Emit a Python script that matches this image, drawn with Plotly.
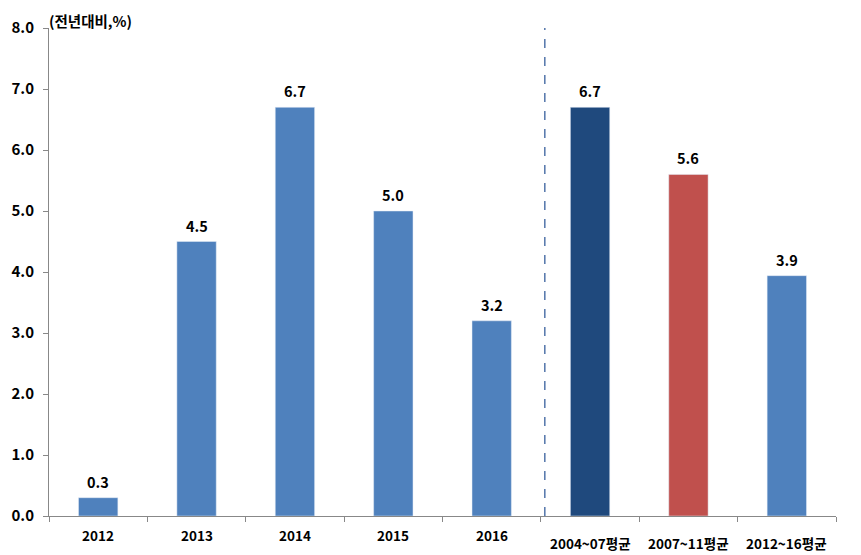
import plotly.graph_objects as go

categories = ["2012", "2013", "2014", "2015", "2016", "2004~07평균", "2007~11평균", "2012~16평균"]
values = [0.3, 4.5, 6.7, 5.0, 3.2, 6.7, 5.6, 3.94]
colors = ["#4F81BD"] * 5 + ["#1F497D", "#C0504D", "#4F81BD"]
label_text = ["0.3", "4.5", "6.7", "5.0", "3.2", "6.7", "5.6", "3.9"]
y_ticks = [0, 1, 2, 3, 4, 5, 6, 7, 8]
y_tick_text = ["0.0", "1.0", "2.0", "3.0", "4.0", "5.0", "6.0", "7.0", "8.0"]
y_title = "(전년대비,%)"

FONT = "Noto Sans CJK KR, sans-serif"
x_idx = list(range(len(categories)))

fig = go.Figure()
fig.add_trace(go.Bar(
    x=x_idx, y=values, marker_color=colors, width=0.4,
))

# value labels above bars
for i, v in enumerate(values):
    fig.add_annotation(
        x=i, xref="x", y=v, yref="y", text=f"<b>{label_text[i]}</b>",
        showarrow=False, yanchor="bottom", yshift=4,
        font=dict(size=14.5, color="#000000", family=FONT),
    )

# x labels as annotations (last three sit a bit lower)
for i, c in enumerate(categories):
    fig.add_annotation(
        x=i, xref="x", y=-0.039 if i < 5 else -0.055, yref="paper",
        text=f"<b>{c}</b>", showarrow=False, yanchor="middle",
        font=dict(size=13.5, color="#000000", family=FONT),
    )

fig.add_annotation(
    x=-0.003, xref="paper", y=1.0, yref="paper", text=f"<b>{y_title}</b>", showarrow=False,
    xanchor="left", yanchor="middle", yshift=8,
    font=dict(size=14.5, color="#000000", family=FONT),
)

fig.add_shape(type="line", xref="x", yref="y", x0=4.54, x1=4.54, y0=0, y1=8.1,
              line=dict(color="#5275AA", width=1.5, dash="dash"))

fig.update_layout(
    width=861, height=555,
    margin=dict(l=49, r=25, t=28, b=39),
    paper_bgcolor="white", plot_bgcolor="white",
    showlegend=False,
    xaxis=dict(tickvals=[i + 0.5 for i in range(-1, len(categories))],
               ticks="outside", ticklen=5,
               tickcolor="#888888", showticklabels=False, showline=True,
               linecolor="#888888", linewidth=1, showgrid=False, zeroline=False,
               range=[-0.5, len(categories) - 0.5]),
    yaxis=dict(range=[0, 8], tickvals=y_ticks,
               ticktext=[f"<b>{t}</b>" for t in y_tick_text],
               ticks="outside", ticklen=5, tickcolor="#888888",
               ticklabelstandoff=6,
               showline=True, linecolor="#888888", linewidth=1,
               showgrid=False, zeroline=False,
               tickfont=dict(size=15, color="#000000", family=FONT)),
)

fig.write_html("out.html", post_script="document.body.style.margin='0';",
               config={"displayModeBar": False})
